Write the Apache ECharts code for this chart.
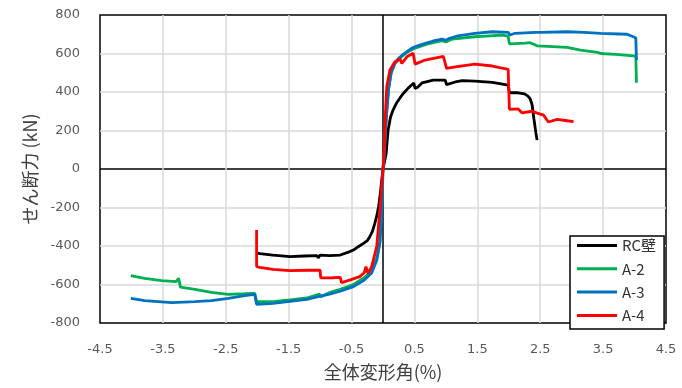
<!DOCTYPE html>
<html><head><meta charset="utf-8">
<script src="https://cdn.jsdelivr.net/npm/echarts@6/dist/echarts.min.js"></script>
<style>html,body{margin:0;padding:0;background:#fff}#c{width:682px;height:388px}</style>
</head><body><div id="c"></div>
<script>
const seriesNames = ['RC壁', 'A-2', 'A-3', 'A-4'];
const xTickLabels = ['-4.5','-3.5','-2.5','-1.5','-0.5','0.5','1.5','2.5','3.5','4.5'];
const yTickValues = [-800,-600,-400,-200,0,200,400,600,800];

const rcWall = [[-2.01,-435],[-1.96,-440],[-1.75,-447],[-1.48,-455],[-1.25,-452],[-1.05,-450],[-1.03,-462],[-1.0,-447],[-0.85,-450],[-0.68,-447],[-0.55,-432],[-0.47,-421],[-0.4,-405],[-0.31,-386],[-0.25,-372],[-0.21,-352],[-0.17,-325],[-0.13,-282],[-0.1,-245],[-0.07,-196],[-0.04,-120],[-0.02,-57],[0,0],
 [0.03,10],[0.05,80],[0.08,200],[0.12,270],[0.16,306],[0.21,340],[0.27,369],[0.33,395],[0.4,420],[0.49,447],[0.51,418],[0.55,425],[0.62,447],[0.8,462],[0.99,462],[1.01,438],[1.15,452],[1.26,459],[1.46,457],[1.74,450],[1.99,436],[2.01,396],[2.15,396],[2.25,390],[2.3,380],[2.34,365],[2.37,335],[2.40,260],[2.43,190],[2.45,150]];

const a2 = [[-4.01,-554],[-3.79,-568],[-3.52,-580],[-3.29,-585],[-3.25,-568],[-3.22,-614],[-2.99,-625],[-2.73,-641],[-2.46,-651],[-2.2,-648],[-2.04,-646],[-2.01,-689],[-1.72,-688],[-1.48,-680],[-1.21,-670],[-1.01,-650],[-0.99,-665],[-0.85,-642],[-0.68,-625],[-0.47,-600],[-0.3,-565],[-0.18,-530],[-0.1,-465],[-0.05,-380],[-0.02,-210],[0,0],
 [0.02,80],[0.04,200],[0.06,300],[0.09,420],[0.13,500],[0.19,548],[0.24,566],[0.3,585],[0.38,605],[0.51,628],[0.7,648],[0.94,667],[1.0,660],[1.1,675],[1.46,687],[1.7,692],[1.9,696],[1.99,690],[2.01,650],[2.26,654],[2.34,656],[2.45,640],[2.7,636],[2.93,632],[3.14,618],[3.41,606],[3.46,600],[3.7,595],[3.98,588],[4.02,585],[4.03,448]];

const a3 = [[-4.01,-672],[-3.79,-684],[-3.36,-694],[-2.99,-689],[-2.73,-684],[-2.46,-672],[-2.2,-658],[-2.04,-651],[-2.01,-703],[-1.75,-698],[-1.48,-688],[-1.21,-677],[-1.02,-662],[-0.99,-672],[-0.85,-650],[-0.68,-635],[-0.47,-611],[-0.31,-580],[-0.18,-540],[-0.1,-475],[-0.05,-385],[-0.02,-213],[0,0],
 [0.02,80],[0.04,200],[0.06,300],[0.09,420],[0.13,500],[0.19,550],[0.24,572],[0.3,590],[0.38,610],[0.46,628],[0.55,640],[0.67,653],[0.8,665],[0.94,675],[1.0,668],[1.05,678],[1.19,692],[1.46,705],[1.74,713],[1.99,710],[2.02,696],[2.1,705],[2.42,710],[2.5,710],[2.93,713],[3.2,710],[3.46,705],[3.88,700],[3.98,687],[4.02,680],[4.03,566]];

const a4 = [[-2.01,-317],[-2.01,-507],[-1.96,-511],[-1.75,-521],[-1.48,-528],[-1.2,-526],[-1.0,-525],[-0.99,-566],[-0.8,-565],[-0.68,-563],[-0.66,-590],[-0.53,-577],[-0.37,-559],[-0.3,-540],[-0.27,-507],[-0.24,-542],[-0.18,-507],[-0.1,-403],[-0.05,-213],[0,0],
 [0.02,100],[0.04,300],[0.06,428],[0.11,514],[0.19,557],[0.27,571],[0.3,549],[0.38,583],[0.48,601],[0.51,545],[0.54,549],[0.67,566],[0.96,585],[1.01,523],[1.15,531],[1.46,545],[1.74,535],[1.99,518],[2.01,310],[2.15,312],[2.21,292],[2.37,300],[2.5,285],[2.55,281],[2.63,244],[2.77,258],[2.9,252],[3.03,246]];

const seriesData = [rcWall, a2, a3, a4];
const seriesColors = ['#000000', '#00b050', '#0070c0', '#ff0000'];

const GRID = '#d9d9d9', NONE = 'rgba(0,0,0,0)';
const xLineColors = [];
for (let i = 0; i <= 18; i++) {
  const v = -4.5 + 0.5 * i;
  if (i === 0 || i === 18) xLineColors.push(NONE);
  else if (Math.abs(v) < 1e-9) xLineColors.push('#000');
  else if (i % 2 === 0) xLineColors.push(GRID);
  else xLineColors.push(NONE);
}
const yLineColors = yTickValues.map((v, i) => (i === 0 || i === yTickValues.length - 1) ? NONE : (v === 0 ? '#000' : GRID));

const chart = echarts.init(document.getElementById('c'), null, {renderer: 'canvas'});
chart.setOption({
  animation: false,
  backgroundColor: '#fff',
  grid: {left: 100, right: 16, top: 15, bottom: 65, show: true, borderColor: '#000', borderWidth: 1.5, backgroundColor: 'transparent'},
  legend: {
    data: seriesNames, orient: 'vertical', left: 570, top: 236,
    icon: 'path://M0,0H40V3H0Z', symbolKeepAspect: true,
    backgroundColor: '#fff', borderColor: '#000', borderWidth: 1.5,
    padding: [2, 8, 6, 7], itemWidth: 40, itemHeight: 14, itemGap: 8.3,
    textStyle: {fontFamily: 'Noto Sans CJK JP', fontSize: 15, color: '#333'}
  },
  xAxis: {
    type: 'value', min: -4.5, max: 4.5, interval: 0.5,
    name: '全体変形角(%)', nameLocation: 'middle', nameGap: 40,
    nameTextStyle: {fontFamily: 'Noto Sans CJK JP', fontSize: 18, color: '#404040'},
    axisLine: {show: false, onZero: false}, axisTick: {show: false},
    axisLabel: {
      margin: 20, fontFamily: 'DejaVu Sans', fontSize: 13, color: '#595959',
      showMinLabel: true, showMaxLabel: true,
      formatter: v => { const s = v.toFixed(1); return xTickLabels.indexOf(s) >= 0 ? s : ''; }
    },
    splitLine: {show: true, lineStyle: {color: xLineColors, width: 1.5}}
  },
  yAxis: {
    type: 'value', min: -800, max: 800, interval: 200,
    name: 'せん断力 (kN)', nameLocation: 'middle', nameGap: 61,
    nameTextStyle: {fontFamily: 'Noto Sans CJK JP', fontSize: 18, color: '#404040'},
    axisLine: {show: false}, axisTick: {show: false},
    axisLabel: {margin: 20, fontFamily: 'DejaVu Sans', fontSize: 13, color: '#595959'},
    splitLine: {show: true, lineStyle: {color: yLineColors, width: 1.5}}
  },
  series: seriesNames.map((n, i) => ({
    name: n, type: 'line', data: seriesData[i], symbol: 'none', showSymbol: false,
    lineStyle: {color: seriesColors[i], width: 2.8}, itemStyle: {color: seriesColors[i]},
    z: 2 + i
  }))
});
</script></body></html>
